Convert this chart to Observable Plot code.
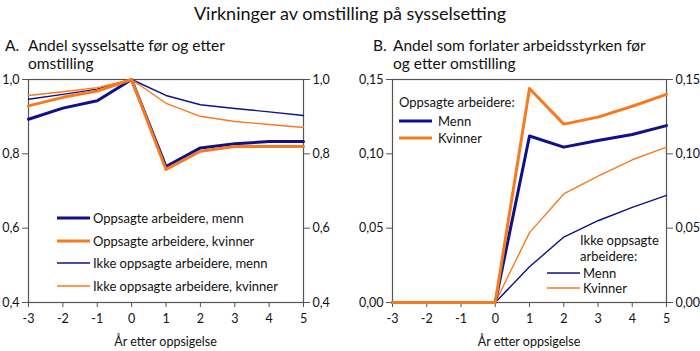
<!DOCTYPE html>
<html><head><meta charset="utf-8">
<script src="https://cdn.jsdelivr.net/npm/d3@7"></script>
<script src="https://cdn.jsdelivr.net/npm/@observablehq/plot@0.6"></script>
<style>
body{margin:0;background:#fff;font-family:Lato,"Noto Sans",sans-serif;color:#111}
#root{position:relative;width:700px;height:351px;overflow:hidden}
.abs{position:absolute}
.title{top:2px;left:0;width:700px;text-align:center;font-size:18px}
.sub{font-size:15.5px;line-height:18px}
.sub .k{display:inline-block}
.xl{font-size:12.5px;text-align:center}
.leg{font-size:13px;line-height:14px;white-space:nowrap}
.leg .row{display:flex;align-items:center}
</style></head>
<body><div id="root"></div>
<script>
const years = [-3,-2,-1,0,1,2,3,4,5];
const seriesNamesA = ["Oppsagte arbeidere, menn","Oppsagte arbeidere, kvinner","Ikke oppsagte arbeidere, menn","Ikke oppsagte arbeidere, kvinner"];
const aOppMenn     = [0.893,0.923,0.943,1.0,0.766,0.816,0.827,0.833,0.833];
const aOppKvinner  = [0.929,0.952,0.969,1.0,0.758,0.807,0.820,0.820,0.820];
const aIkkeMenn    = [0.947,0.960,0.974,1.0,0.957,0.932,0.922,0.913,0.903];
const aIkkeKvinner = [0.957,0.967,0.978,1.0,0.936,0.901,0.887,0.879,0.871];
const bOppMenn     = [0,0,0,0,0.112,0.1045,0.109,0.113,0.119];
const bOppKvinner  = [0,0,0,0,0.144,0.120,0.1247,0.132,0.140];
const bIkkeMenn    = [0,0,0,0,0.024,0.044,0.055,0.064,0.072];
const bIkkeKvinner = [0,0,0,0,0.047,0.073,0.085,0.096,0.1045];
const yTicksA = [0.4,0.6,0.8,1.0];
const yTicksB = [0,0.05,0.10,0.15];

const NAVY = "#10108a", ORANGE = "#f77a1e", FRAME = "#555";
const root = document.getElementById("root");
function div(cls, style, html){const d=document.createElement("div");d.className="abs "+cls;Object.assign(d.style,style);d.innerHTML=html;root.appendChild(d);return d;}

div("title",{}, "Virkninger av omstilling på sysselsetting");
div("sub",{left:"5px",top:"36px"}, '<span class="k" style="width:23px">A.</span>Andel sysselsatte før og etter<br><span class="k" style="width:23px"></span>omstilling');
div("sub",{left:"373px",top:"36px"}, '<span class="k" style="width:20px">B.</span>Andel som forlater arbeidsstyrken før<br><span class="k" style="width:20px"></span>og etter omstilling');

function rows(arrs){
  const out=[];
  arrs.forEach(([name,vals,thick,color])=>vals.forEach((v,i)=>out.push({series:name,year:years[i],value:v,thick,color})));
  return out;
}
const comma = (digits)=> d => d.toFixed(digits).replace(".",",");

function panel(data, domain, ticks, digits, left, mL, mR){
  const thin = data.filter(d=>!d.thick), thick = data.filter(d=>d.thick);
  const p = Plot.plot({
    width:350, height:281,
    marginLeft:mL, marginRight:mR, marginTop:9, marginBottom:49,
    style:{fontFamily:"Lato, 'Noto Sans', sans-serif", fontSize:"12.5px", color:"#111", background:"transparent"},
    x:{domain:[-3,5]},
    y:{domain},
    marks:[
      Plot.axisY({anchor:"left", ticks, tickFormat:comma(digits), tickSize:6, tickPadding:3, label:null, stroke:FRAME}),
      Plot.axisY({anchor:"right", ticks, tickFormat:comma(digits), tickSize:6, tickPadding:3, label:null, stroke:FRAME}),
      Plot.axisX({anchor:"bottom", ticks:years, tickFormat:d=>String(d), tickSize:5, tickPadding:7, label:null, stroke:FRAME}),
      Plot.frame({stroke:FRAME, strokeWidth:1.2}),
      Plot.line(thin, {x:"year", y:"value", z:"series", stroke:"color", strokeWidth:1.4}),
      Plot.line(thick, {x:"year", y:"value", z:"series", stroke:"color", strokeWidth:3}),
    ]
  });
  const holder = div("",{left:left+"px",top:"70px"},"");
  holder.appendChild(p);
  return p;
}

panel(rows([
  [seriesNamesA[2],aIkkeMenn,false,NAVY],
  [seriesNamesA[3],aIkkeKvinner,false,ORANGE],
  [seriesNamesA[0],aOppMenn,true,NAVY],
  [seriesNamesA[1],aOppKvinner,true,ORANGE],
]), [0.4,1.0], yTicksA, 1, 0, 28, 47);

panel(rows([
  ["Ikke oppsagte, menn",bIkkeMenn,false,NAVY],
  ["Ikke oppsagte, kvinner",bIkkeKvinner,false,ORANGE],
  ["Oppsagte, menn",bOppMenn,true,NAVY],
  ["Oppsagte, kvinner",bOppKvinner,true,ORANGE],
]), [0,0.15], yTicksB, 2, 350, 42, 34);

div("xl",{left:"28px",width:"275px",top:"334px"},"År etter oppsigelse");
div("xl",{left:"392px",width:"274px",top:"334px"},"År etter oppsigelse");

function sw(color,w,len){return `<svg width="${len}" height="8" style="margin-right:3px"><line x1="0" y1="4" x2="${len}" y2="4" stroke="${color}" stroke-width="${w}"/></svg>`;}
const legA = div("leg",{left:"57px",top:"207px"},"");
[[seriesNamesA[0],NAVY,3],[seriesNamesA[1],ORANGE,3],[seriesNamesA[2],NAVY,1.4],[seriesNamesA[3],ORANGE,1.4]].forEach(([n,c,w])=>{
  legA.innerHTML += `<div class="row" style="height:22.6px">${sw(c,w,33)}<span>${n}</span></div>`;
});
div("leg",{left:"399px",top:"95px"},
  `<div style="height:17px">Oppsagte arbeidere:</div>`+
  `<div class="row" style="height:17px">${sw(NAVY,3,33)}<span style="margin-left:3px">Menn</span></div>`+
  `<div class="row" style="height:17px">${sw(ORANGE,3,33)}<span style="margin-left:3px">Kvinner</span></div>`);
div("leg",{left:"547px",top:"233px"},
  `<div style="height:16px;padding-left:33px">Ikke oppsagte</div>`+
  `<div style="height:16px;padding-left:33px">arbeidere:</div>`+
  `<div class="row" style="height:15px">${sw(NAVY,1.4,33)}<span>Menn</span></div>`+
  `<div class="row" style="height:15px">${sw(ORANGE,1.4,33)}<span>Kvinner</span></div>`);
</script></body></html>
